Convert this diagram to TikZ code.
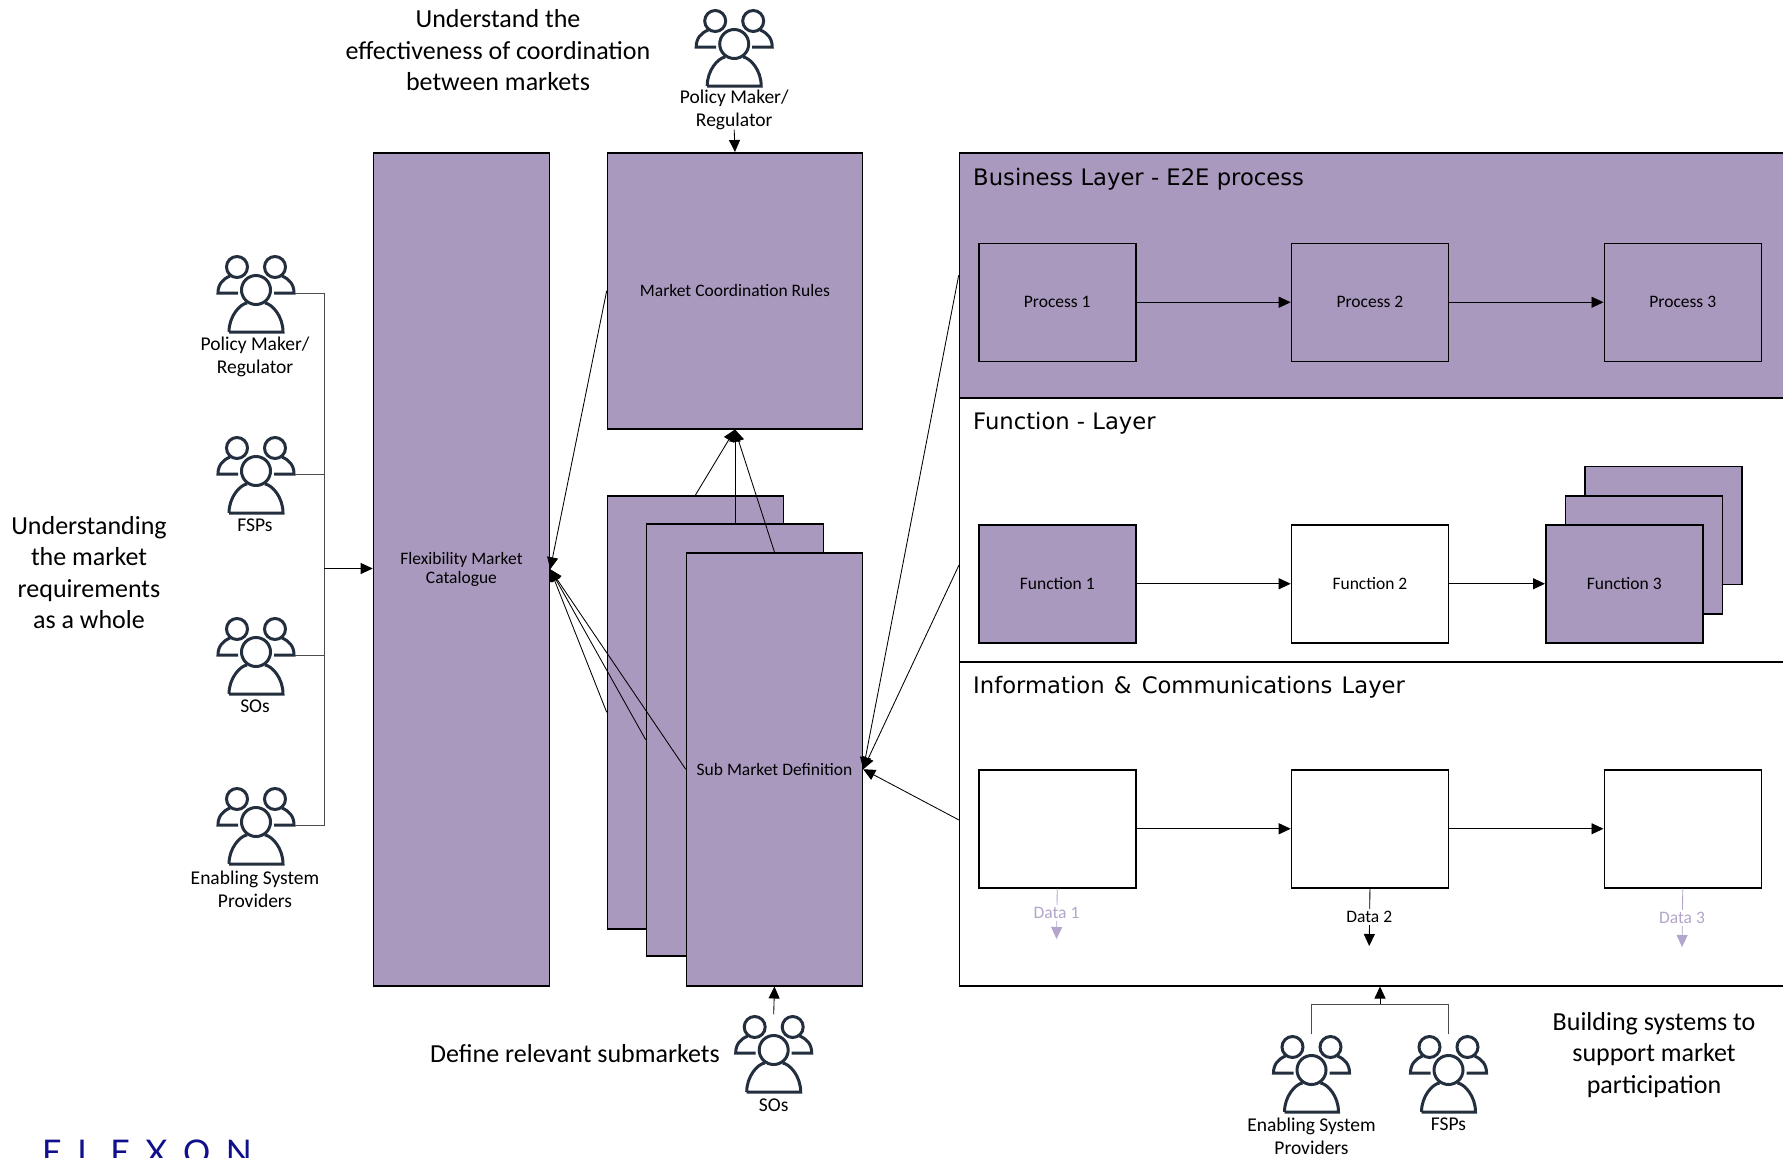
\documentclass[tikz,border=0pt]{standalone}
\usepackage{fontspec}
\setmainfont{Carlito}
\newfontfamily\headfont{DejaVu Sans}
\newfontfamily\logofont{Lato}
\usetikzlibrary{arrows.meta,positioning}
\definecolor{plum}{HTML}{AA99BF}
\definecolor{softplum}{HTML}{B3A5CC}
\definecolor{ink}{HTML}{232F3E}
\definecolor{navy}{HTML}{10108C}
\tikzset{
  x=1pt,y=-1pt,
  purplebox/.style={draw=black,line width=1.5pt,fill=plum,inner sep=0pt,align=center,font=\fontsize{17.5}{20}\selectfont},
  whitebox/.style={purplebox,fill=white},
  layer/.style={draw=black,line width=1.5pt,inner sep=0pt},
  conn/.style={draw=black,line width=0.85pt,-{Triangle[length=12pt,width=11pt]}},
  plainconn/.style={draw=black!70,line width=0.85pt},
  softarrow/.style={draw=softplum,line width=0.85pt,-{Triangle[length=12pt,width=11pt,fill=softplum]}},
  peoplelabel/.style={align=center,inner sep=0pt,font=\fontsize{19.5}{23}\selectfont},
  bigtext/.style={align=center,inner sep=0pt,font=\fontsize{26}{31.5}\selectfont},
  headtext/.style={anchor=west,inner sep=0pt,font=\headfont\fontsize{22.7}{26}\selectfont},
  datatext/.style={fill=white,inner sep=2pt,font=\fontsize{17.5}{20}\selectfont},
  iconbox/.style={minimum width=78pt,minimum height=77pt,inner sep=0pt},
}
\newcommand{\peopleicon}[1]{%
  \begin{scope}[shift={(#1)},draw=ink,line width=3pt]
    \draw (-19,-26) circle[radius=10.5];
    \draw (19,-26) circle[radius=10.5];
    \draw (-18,0) -- (-38,0) .. controls (-38,-9) and (-33,-14) .. (-26,-17);
    \draw (18,0) -- (38,0) .. controls (38,-9) and (33,-14) .. (26,-17);
    \draw (-27,39) -- (27,39) .. controls (27,23) and (16,11) .. (9,10);
    \draw (-27,39) .. controls (-27,23) and (-16,11) .. (-9,10);
    \draw (0,-3) circle[radius=14.5];
  \end{scope}}
\begin{document}
\begin{tikzpicture}
\useasboundingbox (0,0) rectangle (1783,1157);
\clip (0,0) rectangle (1783,1157);

% layers
\node[layer,fill=plum,minimum width=900pt,minimum height=245pt,anchor=north west] (business) at (958.7,152) {};
\node[layer,fill=white,minimum width=900pt,minimum height=264pt,anchor=north west] (functionlayer) at (958.7,397) {};
\node[layer,fill=white,minimum width=900pt,minimum height=324pt,anchor=north west] (infolayer) at (958.7,661) {};
\node[headtext] (bh) at (973,179) {Business Layer - E2E process};
\node[headtext] (fh) at (973,423.5) {Function - Layer};
\node[headtext] (ih) at (973,687) {Information\hspace{2pt} \&\hspace{3pt} Communications\hspace{2pt} Layer};
\coordinate (functionlink) at (959,565);
\coordinate (infolink) at (959,820);

% main boxes
\node[purplebox,minimum width=176pt,minimum height=833pt,anchor=north west] (catalogue) at (372.7,152) {Flexibility Market\\[-1pt]Catalogue};
\node[purplebox,minimum width=255pt,minimum height=276pt,anchor=north west] (market) at (606.7,152) {Market Coordination Rules};
\node[purplebox,minimum width=176pt,minimum height=433pt,anchor=north west] (subA) at (606.7,495) {};
\node[purplebox,minimum width=177pt,minimum height=432pt,anchor=north west] (subB) at (645.7,523) {};

% connectors behind the front sheet
\draw[conn] (market.west) -- (catalogue.east);
\draw[conn] (subA.west) -- (catalogue.east);
\draw[conn] (subB.west) -- (catalogue.east);
\draw[conn] (subA.north) -- (market.south);
\draw[conn] (subB.north) -- (market.south);

\node[purplebox,minimum width=176pt,minimum height=433pt,anchor=north west] (subC) at (685.7,552) {Sub Market Definition};
\draw[conn] (subC.west) -- (catalogue.east);
\draw[conn] (subC.north) -- (market.south);
\draw[conn] (business.west) -- (subC.east);
\draw[conn] (functionlink) -- (subC.east);
\draw[conn] (infolink) -- (subC.east);

% process row
\node[purplebox,minimum width=157pt,minimum height=118pt,anchor=north west] (proc1) at (978,242.5) {Process 1};
\node[purplebox,minimum width=157pt,minimum height=118pt,anchor=north west] (proc2) at (1290.7,242.5) {Process 2};
\node[purplebox,minimum width=157pt,minimum height=118pt,anchor=north west] (proc3) at (1603.5,242.5) {Process 3};
\draw[conn] (proc1) -- (proc2);
\draw[conn] (proc2) -- (proc3);

% function row
\node[purplebox,minimum width=157pt,minimum height=118pt,anchor=north west] (func1) at (978,524) {Function 1};
\node[whitebox,minimum width=157pt,minimum height=118pt,anchor=north west] (func2) at (1290.7,524) {Function 2};
\node[purplebox,minimum width=157pt,minimum height=118pt,anchor=north west] (func3c) at (1584,465.5) {};
\node[purplebox,minimum width=157pt,minimum height=118pt,anchor=north west] (func3b) at (1564.5,495) {};
\node[purplebox,minimum width=157pt,minimum height=118pt,anchor=north west] (func3) at (1545,524) {Function 3};
\draw[conn] (func1) -- (func2);
\draw[conn] (func2) -- (func3);

% information row
\node[whitebox,minimum width=157pt,minimum height=118pt,anchor=north west] (info1) at (978,769) {};
\node[whitebox,minimum width=157pt,minimum height=118pt,anchor=north west] (info2) at (1290.7,769) {};
\node[whitebox,minimum width=157pt,minimum height=118pt,anchor=north west] (info3) at (1603.5,769) {};
\draw[conn] (info1) -- (info2);
\draw[conn] (info2) -- (info3);

% data
\coordinate (d1end) at (1056.5,939);
\coordinate (d2end) at (1369.2,946);
\coordinate (d3end) at (1682,947);
\draw[softarrow] (info1.south) -- (d1end);
\draw[conn] (info2.south) -- (d2end);
\draw[softarrow] (info3.south) -- (d3end);
\node[datatext,text=softplum] (d1) at (1056.5,913) {Data 1};
\node[datatext,text=black] (d2) at (1369.2,917) {Data 2};
\node[datatext,text=softplum] (d3) at (1682,918) {Data 3};

% people, left column
\node[iconbox] (pmL) at (256,293) {};
\node[iconbox] (fspL) at (256,474) {};
\node[iconbox] (sosL) at (256,655) {};
\node[iconbox] (espL) at (256,825) {};
\peopleicon{256,293}\peopleicon{256,474}\peopleicon{256,655}\peopleicon{256,825}
\node[peoplelabel] (pmLt) at (255,356.5) {Policy Maker/\\Regulator};
\node[peoplelabel] (fspLt) at (255,525) {FSPs};
\node[peoplelabel] (sosLt) at (255,706) {SOs};
\node[peoplelabel] (espLt) at (255,889) {Enabling System\\Providers};
\coordinate (bus) at (324,568.5);
\draw[plainconn] (pmL.east) -| (bus);
\draw[plainconn] (fspL.east) -| (bus);
\draw[plainconn] (sosL.east) -| (bus);
\draw[plainconn] (espL.east) -| (bus);
\draw[conn] (bus) -- (bus -| catalogue.west);

% people, top
\node[iconbox] (pmT) at (734.2,47) {};
\peopleicon{734.2,47}
\node[peoplelabel] (pmTt) at (734.2,109.5) {Policy Maker/\\Regulator};
\draw[conn] (pmTt.south) -- (market.north);

% people, sub market
\node[iconbox] (sosB) at (773.7,1053) {};
\peopleicon{773.7,1053}
\node[peoplelabel] (sosBt) at (773.7,1105.5) {SOs};
\draw[conn] (sosB.north) -- (subC.south);

% people, bottom right
\node[iconbox] (espB) at (1311.5,1073) {};
\node[iconbox] (fspB) at (1448.5,1073) {};
\peopleicon{1311.5,1073}\peopleicon{1448.5,1073}
\node[peoplelabel] (espBt) at (1311.5,1136) {Enabling System\\Providers};
\node[peoplelabel] (fspBt) at (1448.5,1124) {FSPs};
\coordinate (join) at (1380,1004);
\draw[plainconn] (espB.north) |- (join);
\draw[plainconn] (fspB.north) |- (join);
\draw[conn] (join) -- (join |- infolayer.south);

% free text
\node[bigtext] (t1) at (498,50.5) {Understand the\\effectiveness of coordination\\between markets};
\node[bigtext] (t2) at (89,572.5) {Understanding\\the market\\requirements\\as a whole};
\node[bigtext] (t3) at (575,1053.5) {Define relevant submarkets};
\node[bigtext] (t4) at (1654,1055) {Building systems to\\support market\\participation};

% logo, cut by the page edge
\node[anchor=north west,inner sep=0pt,text=navy,font=\logofont\fontsize{34}{34}\selectfont] (logo) at (42,1140) {E\hspace{15.5pt}L\hspace{15.5pt}E\hspace{15.5pt}X\hspace{15.5pt}O\hspace{15.5pt}N};
\end{tikzpicture}
\end{document}
